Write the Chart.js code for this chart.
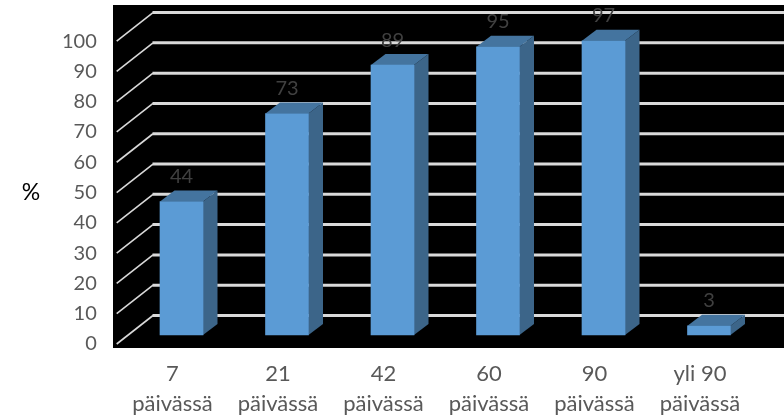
<!DOCTYPE html>
<html><head><meta charset="utf-8">
<style>html,body{margin:0;padding:0;background:#fff}canvas{display:block}</style>
<script src="https://cdn.jsdelivr.net/npm/chart.js@4"></script>
</head><body><canvas id="c" width="784" height="418"></canvas>
<script>
const categories = [["7","päivässä"],["21","päivässä"],["42","päivässä"],["60","päivässä"],["90","päivässä"],["yli 90","päivässä"]];
const values = [44,73,89,95,97,3];
const gridValues = [0,10,20,30,40,50,60,70,80,90,100];
const axisName = "%";

const FONT = "Lato, Carlito, 'Open Sans', sans-serif";
const DX = 14.5, DY = 11;
const depth3d = {
  id:'depth3d',
  afterLayout(chart){
    const top = 12, bottom = 344;
    [chart.scales.y, chart.scales.bars].forEach(s=>{
      s.top = top; s.bottom = bottom; s.height = bottom-top; s.configure();
    });
    chart.chartArea.top = top;
    chart.chartArea.height = bottom-top;
  },
  beforeDraw(chart){
    const c = chart.ctx;
    c.save();
    c.fillStyle = '#000';
    c.fillRect(113,5,671,343);
    c.restore();
  },
  beforeDatasetsDraw(chart){
    const c = chart.ctx, y = chart.scales.y;
    c.save();
    gridValues.forEach(v=>{
      const py = y.getPixelForValue(v);
      c.strokeStyle = '#d9d9d9';
      c.lineWidth = 1.6;
      c.beginPath(); c.moveTo(116.7,py); c.lineTo(153,py-28.5); c.stroke();
      c.lineWidth = 3;
      c.beginPath(); c.moveTo(152.5,py-28.5); c.lineTo(784,py-28.5); c.stroke();
    });
    chart.getDatasetMeta(0).data.forEach(b=>{
      const p = b.getProps(['x','y','base','width'],true);
      const l = p.x-p.width/2, r = p.x+p.width/2;
      c.fillStyle = '#3c6589';
      c.beginPath(); c.moveTo(r,p.y); c.lineTo(r+DX,p.y-DY); c.lineTo(r+DX,p.base-DY); c.lineTo(r,p.base); c.closePath(); c.fill();
      c.fillStyle = '#44749f';
      c.beginPath(); c.moveTo(l,p.y); c.lineTo(l+DX,p.y-DY); c.lineTo(r+DX,p.y-DY); c.lineTo(r,p.y); c.closePath(); c.fill();
    });
    c.restore();
  },
  afterDatasetsDraw(chart){
    const c = chart.ctx;
    c.save();
    c.font = '20px '+FONT;
    c.fillStyle = '#404040';
    c.textAlign = 'center';
    c.textBaseline = 'middle';
    chart.getDatasetMeta(0).data.forEach((b,i)=>{
      c.fillText(String(values[i]), b.x, b.y-25);
    });
    c.font = '23px '+FONT;
    c.fillStyle = '#000';
    c.fillText(axisName, 31, 193);
    c.restore();
  }
};
new Chart(document.getElementById('c'),{
  type:'bar',
  data:{labels:categories,datasets:[{data:values,backgroundColor:'#5b9bd5',barThickness:43,yAxisID:'bars'}]},
  plugins:[depth3d],
  options:{
    responsive:false,animation:false,
    layout:{autoPadding:false,padding:{top:12,right:22.25,left:0,bottom:0}},
    plugins:{legend:{display:false},tooltip:{enabled:false},title:{display:false}},
    scales:{
      x:{
        grid:{display:false},border:{display:false},
        afterFit(s){s.height=74;},
        ticks:{font:{family:FONT,size:22,lineHeight:1.36},color:'#595959',labelOffset:-9,padding:7,maxRotation:0,autoSkip:false}
      },
      y:{
        position:'left',min:0,max:109.6,bounds:'data',
        grid:{display:false},border:{display:false},
        afterFit(s){s.width=128.75;},
        ticks:{stepSize:10,includeBounds:false,font:{family:FONT,size:20},color:'#595959',padding:24,
          callback:v=>v<=100?String(v):''}
      },
      bars:{axis:'y',position:'left',display:false,min:-3,max:106.5}
    }
  }
});
</script></body></html>
